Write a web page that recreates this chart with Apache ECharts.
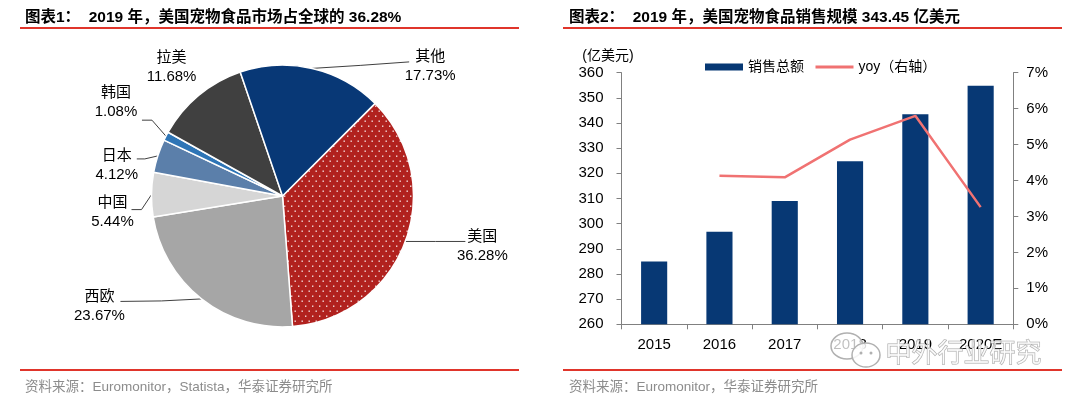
<!DOCTYPE html>
<html>
<head>
<meta charset="utf-8">
<script src="https://cdn.jsdelivr.net/npm/echarts@6/dist/echarts.min.js"></script>
<style>
html,body{margin:0;padding:0;background:#fff;}
#c{width:1080px;height:401px;}
</style>
</head>
<body>
<div id="c"></div>
<script>
// ---------- data ----------
const pieNames = ['美国', '西欧', '中国', '日本', '韩国', '拉美', '其他'];
const pieValues = [36.28, 23.67, 5.44, 4.12, 1.08, 11.68, 17.73];
const years = ['2015', '2016', '2017', '2018', '2019', '2020E'];
const sales = [285.0, 296.8, 309.0, 324.8, 343.45, 354.8];
const yoy = [null, 4.13, 4.09, 5.14, 5.80, 3.26];
const leftTicks = { min: 260, max: 360, interval: 10 };
const rightTicks = { min: 0, max: 7, interval: 1 };
const title1 = '图表1：  2019 年，美国宠物食品市场占全球的 36.28%';
const title2 = '图表2：  2019 年，美国宠物食品销售规模 343.45 亿美元';
const source1 = '资料来源：Euromonitor，Statista，华泰证券研究所';
const source2 = '资料来源：Euromonitor，华泰证券研究所';
const unitLabel = '(亿美元)';
const legendNames = ['销售总额', 'yoy（右轴）'];
const watermark = '中外行业研究';

// ---------- styles ----------
const FONT = '"Liberation Sans", Arial, "Noto Sans CJK SC", sans-serif';
const pieColors = ['#b1221f', '#a6a6a6', '#d6d6d6', '#5b7faa', '#2e75b6', '#404040', '#083876'];
// label line / label center offsets relative to the slice's edge point
const labelOffsets = [
  [[30, 0], [60, 0], [77, 5]],        // 美国
  [[-40, 2], [-81, 2.5], [-102, 7.5]], // 西欧
  [[-10, 15], [-20, 15], [-39, 18]],  // 中国
  [[-13, 3], [-21, 3], [-41, 9]],     // 日本
  [[-14, -16], [-24, -16], [-50, -34]], // 韩国
  [[0, 0], [0, 0], [-27, -28]],       // 拉美 (no line)
  [[48, -3], [97, -6.5], [118, -2]]   // 其他
];

// dotted pattern for 美国
function makePattern(base) {
  const cv = document.createElement('canvas');
  cv.width = 7; cv.height = 10;
  const g = cv.getContext('2d');
  g.fillStyle = base; g.fillRect(0, 0, 7, 10);
  g.fillStyle = 'rgba(255,255,255,0.85)';
  g.fillRect(0.5, 0.5, 1.4, 1.4);
  g.fillRect(4, 5.5, 1.4, 1.4);
  return cv;
}

const pieData = pieNames.map((n, i) => {
  const d = {
    name: n, value: pieValues[i],
    itemStyle: { color: i === 0 ? { image: makePattern(pieColors[0]), repeat: 'repeat' } : pieColors[i] }
  };
  if (n === '拉美') d.labelLine = { lineStyle: { opacity: 0 } };
  return d;
});

const chart = echarts.init(document.getElementById('c'), null, { renderer: 'canvas' });

const option = {
  animation: false,
  backgroundColor: '#fff',
  textStyle: { fontFamily: FONT },
  title: [
    { text: title1, left: 20, top: 5, textStyle: { fontFamily: FONT, fontSize: 15.5, fontWeight: 'bold', color: '#000' } },
    { text: title2, left: 564, top: 5, textStyle: { fontFamily: FONT, fontSize: 15.5, fontWeight: 'bold', color: '#000' } },
    { text: source1, left: 20, top: 376, textStyle: { fontFamily: FONT, fontSize: 13.5, fontWeight: 'normal', color: '#8c8c8c' } },
    { text: source2, left: 564, top: 376, textStyle: { fontFamily: FONT, fontSize: 13.5, fontWeight: 'normal', color: '#8c8c8c' } }
  ],
  legend: {
    left: 700, top: 55,
    itemWidth: 38, itemHeight: 7, itemGap: 10,
    textStyle: { fontFamily: FONT, fontSize: 14, color: '#000' },
    data: [
      { name: legendNames[0], icon: 'rect' },
      { name: legendNames[1], itemStyle: { opacity: 0 }, lineStyle: { width: 3 } }
    ]
  },
  grid: { left: 621.5, right: 66.7, top: 72.7, bottom: 76.7, containLabel: false },
  xAxis: {
    type: 'category', data: years,
    axisLine: { lineStyle: { color: '#808080', width: 1 } },
    axisTick: { show: true, length: 5, lineStyle: { color: '#808080' } },
    axisLabel: { fontFamily: FONT, fontSize: 15, color: '#000', margin: 13 }
  },
  yAxis: [
    {
      type: 'value', min: leftTicks.min, max: leftTicks.max, interval: leftTicks.interval,
      name: unitLabel, nameLocation: 'end', nameGap: 10,
      nameTextStyle: { fontFamily: FONT, fontSize: 14, color: '#000', align: 'center', padding: [0, 0, 0, -27] },
      axisLine: { show: true, lineStyle: { color: '#808080' } },
      axisTick: { show: true, length: 5, lineStyle: { color: '#808080' } },
      splitLine: { show: false },
      axisLabel: { fontFamily: FONT, fontSize: 15, color: '#000', margin: 18 }
    },
    {
      type: 'value', min: rightTicks.min, max: rightTicks.max, interval: rightTicks.interval,
      position: 'right',
      axisLine: { show: true, lineStyle: { color: '#808080' } },
      axisTick: { show: true, length: 5, lineStyle: { color: '#808080' } },
      splitLine: { show: false },
      axisLabel: { fontFamily: FONT, fontSize: 15, color: '#000', margin: 13, formatter: '{value}%' }
    }
  ],
  series: [
    {
      type: 'pie', name: 'share',
      center: [282.5, 196], radius: [0, 131],
      startAngle: 45, clockwise: true,
      data: pieData,
      itemStyle: { borderColor: '#fff', borderWidth: 1.5 },
      label: {
        show: true, position: 'outside', formatter: '{b}\n{d}%',
        fontFamily: FONT, fontSize: 15, color: '#000', lineHeight: 19, align: 'center'
      },
      labelLine: { show: true, length: 10, length2: 10, lineStyle: { color: '#404040', width: 1 } },
      avoidLabelOverlap: false,
      labelLayout: function (p) {
        const o = labelOffsets[p.dataIndex];
        const pts = p.labelLinePoints;
        if (!pts) return {};
        const p0 = pts[0];
        return {
          x: p0[0] + o[2][0], y: p0[1] + o[2][1], align: 'center', verticalAlign: 'middle',
          labelLinePoints: [[p0[0], p0[1]], [p0[0] + o[0][0], p0[1] + o[0][1]], [p0[0] + o[1][0], p0[1] + o[1][1]]]
        };
      }
    },
    {
      type: 'bar', name: legendNames[0], data: sales, yAxisIndex: 0,
      barWidth: '40%', itemStyle: { color: '#073874' }
    },
    {
      type: 'line', name: legendNames[1], data: yoy, yAxisIndex: 1,
      symbol: 'none', lineStyle: { color: '#f07272', width: 2.5 }, itemStyle: { color: '#f07272' }
    }
  ],
  graphic: [
    { type: 'line', shape: { x1: 20, y1: 28, x2: 519, y2: 28 }, style: { stroke: '#e0352b', lineWidth: 2 } },
    { type: 'line', shape: { x1: 563, y1: 28, x2: 1062, y2: 28 }, style: { stroke: '#e0352b', lineWidth: 2 } },
    { type: 'line', shape: { x1: 20, y1: 370, x2: 519, y2: 370 }, style: { stroke: '#e0352b', lineWidth: 2 } },
    { type: 'line', shape: { x1: 563, y1: 370, x2: 1062, y2: 370 }, style: { stroke: '#e0352b', lineWidth: 2 } },
    // watermark
    { type: 'ellipse', z: 100, shape: { cx: 847, cy: 346, rx: 16, ry: 13 }, style: { fill: 'rgba(255,255,255,0.75)', stroke: '#b0b0b0', lineWidth: 1.5 } },
    { type: 'ellipse', z: 101, shape: { cx: 866, cy: 355, rx: 14, ry: 12 }, style: { fill: 'rgba(255,255,255,0.85)', stroke: '#b0b0b0', lineWidth: 1.5 } },
    { type: 'circle', z: 102, shape: { cx: 861, cy: 353, r: 1.5 }, style: { fill: '#b0b0b0' } },
    { type: 'circle', z: 102, shape: { cx: 871, cy: 353, r: 1.5 }, style: { fill: '#b0b0b0' } },
    { type: 'text', z: 103, left: 885, top: 339, style: { text: watermark, fontFamily: '"Noto Sans CJK SC", sans-serif', fontSize: 26, fill: 'rgba(255,255,255,0.7)', stroke: '#a8a8a8', lineWidth: 1 } }
  ]
};
chart.setOption(option);
</script>
</body>
</html>
